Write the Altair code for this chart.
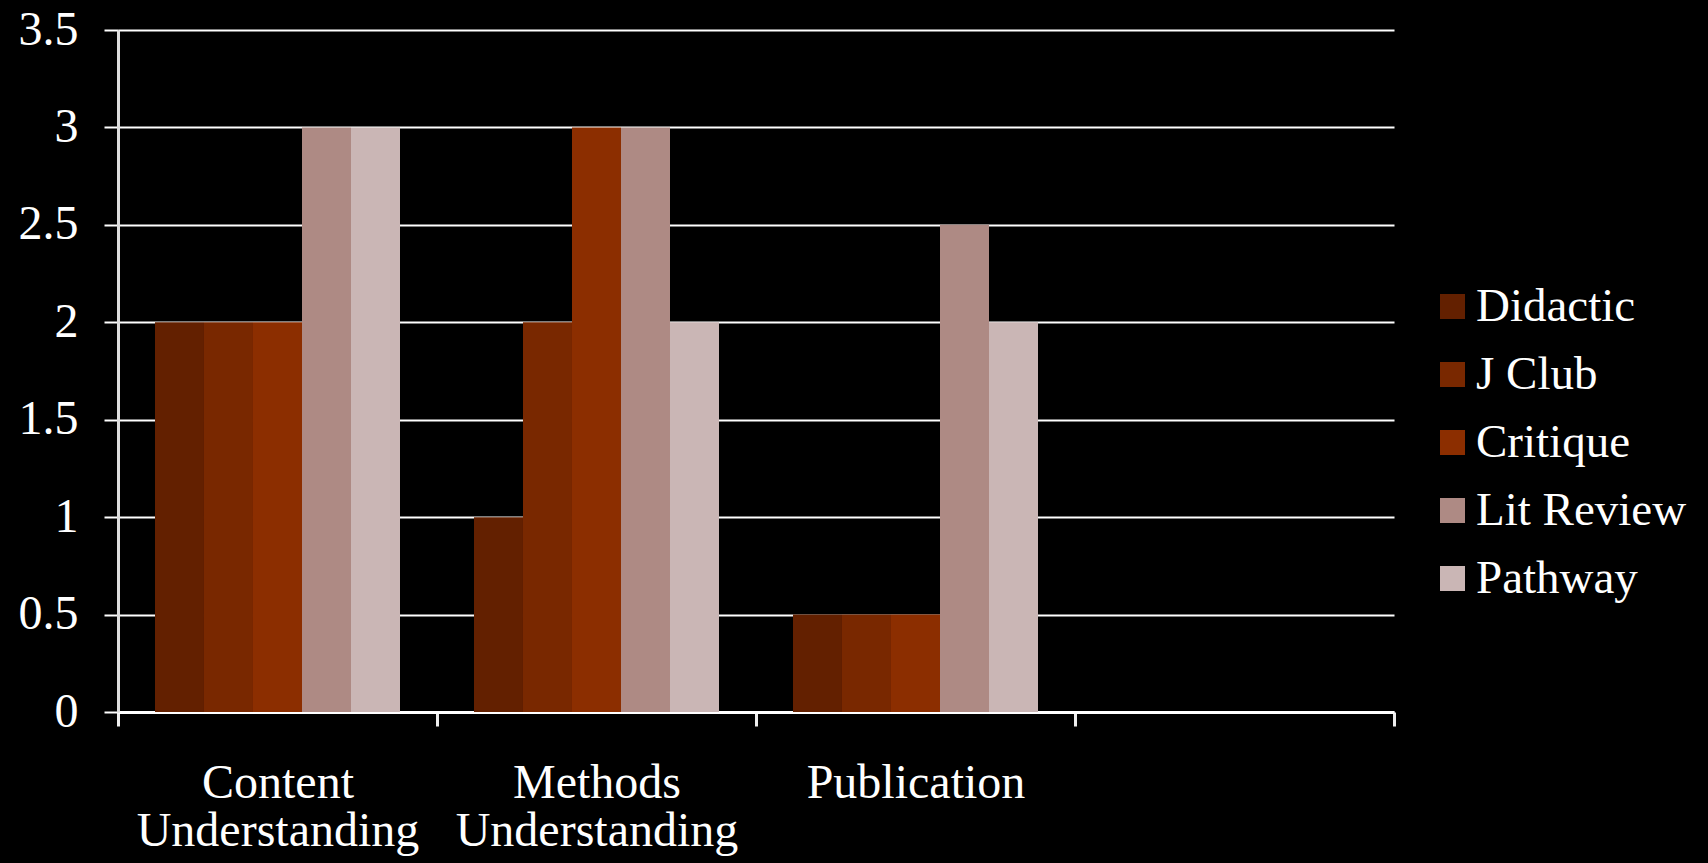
import altair as alt
import pandas as pd

categories = ["Content Understanding", "Methods Understanding", "Publication", " "]
series = ["Didactic", "J Club", "Critique", "Lit Review", "Pathway"]
colors = ["#632000", "#792800", "#8c2e00", "#ae8a84", "#cab6b5"]
content_vals = [2, 2, 2, 3, 3]
methods_vals = [1, 2, 3, 3, 2]
publication_vals = [0.5, 0.5, 0.5, 2.5, 2]

rows = []
for cat, vals in zip(categories[:3], [content_vals, methods_vals, publication_vals]):
    for s, v in zip(series, vals):
        rows.append({"category": cat, "series": s, "value": v})
df = pd.DataFrame(rows)

FONT = "Liberation Serif"

chart = alt.Chart(df).mark_bar().encode(
    x=alt.X("category:N",
            scale=alt.Scale(domain=categories, paddingInner=0, paddingOuter=0),
            sort=categories,
            axis=alt.Axis(title=None, labelAngle=0, tickBand="extent",
                          labelExpr="split(datum.label, ' ')", labelLimit=0,
                          labelFont=FONT, labelFontSize=48, labelColor="white",
                          labelLineHeight=48, labelBaseline="top", labelPadding=33,
                          domainColor="white", domainWidth=3,
                          tickColor="#eeeeee", tickWidth=3, tickSize=14,
                          grid=False)),
    xOffset=alt.XOffset("series:N", sort=series,
                        scale=alt.Scale(domain=series, paddingInner=0, paddingOuter=0.755)),
    y=alt.Y("value:Q",
            scale=alt.Scale(domain=[0, 3.5], nice=False),
            axis=alt.Axis(title=None, values=[0, 0.5, 1, 1.5, 2, 2.5, 3, 3.5],
                          labelExpr="datum.value", labelLimit=0,
                          labelFont=FONT, labelFontSize=48, labelColor="white",
                          labelPadding=26,
                          domainColor="#dddddd", domainWidth=3,
                          tickColor="white", tickWidth=2, tickSize=14,
                          grid=True, gridColor="white", gridWidth=2)),
    color=alt.Color("series:N", sort=series,
                    scale=alt.Scale(domain=series, range=colors),
                    legend=alt.Legend(title=None, orient="none", legendX=1311, legendY=253,
                                      symbolType="square", symbolSize=625,
                                      symbolStrokeWidth=0, symbolOpacity=1,
                                      labelFont=FONT, labelFontSize=47, labelLimit=0,
                                      labelColor="white", labelOffset=0,
                                      rowPadding=20, padding=0)),
).properties(
    width=1276, height=682,
    autosize=alt.AutoSizeParams(type="none"),
    padding={"left": 118, "top": 30, "right": 314, "bottom": 151},
).configure(
    background="black",
).configure_view(
    stroke=None,
)

chart.save("out.html", embed_options={"renderer": "svg", "actions": False})
